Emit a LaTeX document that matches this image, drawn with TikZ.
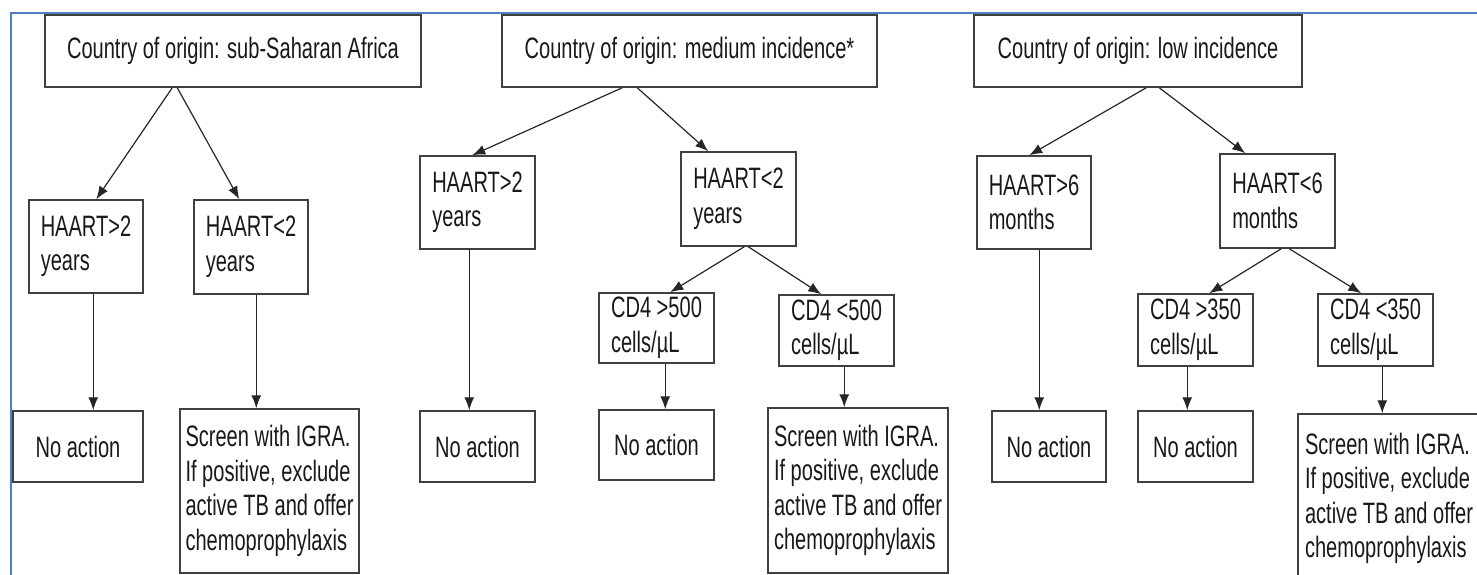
\documentclass[tikz,border=0pt]{standalone}
\usepackage{fontspec}
\setmainfont{Liberation Sans}[FakeStretch=0.68]
\usetikzlibrary{arrows.meta,calc}
\definecolor{frameblue}{RGB}{79,129,189}
\tikzset{
  box/.style={draw=black!75, line width=1.5pt, rectangle, inner sep=0pt, align=left,
    text=black!90, font=\fontsize{29.5}{34.5}\selectfont},
  arr/.style={draw=black!85, line width=1.2pt, -{Latex[length=13pt,width=10pt]}}
}
\begin{document}
\begin{tikzpicture}[x=1pt,y=-1pt]
\useasboundingbox (0,0) rectangle (1477,575);
\draw[frameblue, line width=1.6pt] (11,580) -- (11,13) -- (1480,13);
% left tree
\node[box, minimum width=376, minimum height=72] (A1) at (233,51) {Country of origin: sub-Saharan Africa};
\node[box, minimum width=114, minimum height=93] (A2) at (86,246.5) {HAART>2\\years};
\node[box, minimum width=114, minimum height=94] (A3) at (251,247) {HAART<2\\years};
\node[box, minimum width=130, minimum height=71] (A4) at (78,446.5) {No action};
\node[box, minimum width=179, minimum height=164] (A5) at (269.5,491) {Screen with IGRA.\\If positive, exclude\\active TB and offer\\chemoprophylaxis};
% middle tree
\node[box, minimum width=375, minimum height=72] (B1) at (689.5,51) {Country of origin: medium incidence*};
\node[box, minimum width=115, minimum height=93] (B2) at (477.5,202.5) {HAART>2\\years};
\node[box, minimum width=115, minimum height=94] (B3) at (738.5,199) {HAART<2\\years};
\node[box, minimum width=115, minimum height=70] (B4) at (656.5,328) {CD4 >500\\cells/µL};
\node[box, minimum width=115, minimum height=71] (B5) at (836.5,330.5) {CD4 <500\\cells/µL};
\node[box, minimum width=115, minimum height=71] (B6) at (477.5,446.5) {No action};
\node[box, minimum width=115, minimum height=70] (B7) at (656.5,445) {No action};
\node[box, minimum width=180, minimum height=165] (B8) at (858,490.5) {Screen with IGRA.\\If positive, exclude\\active TB and offer\\chemoprophylaxis};
% right tree
\node[box, minimum width=328, minimum height=72] (C1) at (1138,51) {Country of origin: low incidence};
\node[box, minimum width=114, minimum height=93] (C2) at (1034,202.5) {HAART>6\\months};
\node[box, minimum width=115, minimum height=94] (C3) at (1277.5,201) {HAART<6\\months};
\node[box, minimum width=115, minimum height=72] (C4) at (1195.5,330) {CD4 >350\\cells/µL};
\node[box, minimum width=115, minimum height=72] (C5) at (1375.5,330) {CD4 <350\\cells/µL};
\node[box, minimum width=114, minimum height=71] (C6) at (1049,446.5) {No action};
\node[box, minimum width=115, minimum height=71] (C7) at (1195.5,446.5) {No action};
\node[box, minimum width=182, minimum height=169] (C8) at (1389,498.5) {Screen with IGRA.\\If positive, exclude\\active TB and offer\\chemoprophylaxis};
% connectors left
\draw[arr] ($(A1.south west)+(128,0)$) -- ($(A2.north west)+(68,0)$);
\draw[arr] ($(A1.south west)+(133,0)$) -- ($(A3.north west)+(46,0)$);
\draw[arr] ($(A2.south west)+(65,0)$) -- ($(A4.north west)+(81,0)$);
\draw[arr] ($(A3.south west)+(63,0)$) -- ($(A5.north west)+(77,0)$);
% connectors middle
\draw[arr] ($(B1.south west)+(121,0)$) -- ($(B2.north west)+(53,0)$);
\draw[arr] ($(B1.south west)+(136,0)$) -- ($(B3.north west)+(28,0)$);
\draw[arr] ($(B2.south west)+(50,0)$) -- ($(B6.north west)+(50,0)$);
\draw[arr] ($(B3.south west)+(64,0)$) -- ($(B4.north west)+(72,0)$);
\draw[arr] ($(B3.south west)+(68,0)$) -- ($(B5.north west)+(43,0)$);
\draw[arr] ($(B4.south west)+(67,0)$) -- ($(B7.north west)+(67,0)$);
\draw[arr] ($(B5.south west)+(66,0)$) -- ($(B8.north west)+(77,0)$);
% connectors right
\draw[arr] ($(C1.south west)+(173,0)$) -- ($(C2.north west)+(53,0)$);
\draw[arr] ($(C1.south west)+(186,0)$) -- ($(C3.north west)+(26,0)$);
\draw[arr] ($(C2.south west)+(63,0)$) -- ($(C6.north west)+(48,0)$);
\draw[arr] ($(C3.south west)+(62,0)$) -- ($(C4.north west)+(72,0)$);
\draw[arr] ($(C3.south west)+(70,0)$) -- ($(C5.north west)+(44,0)$);
\draw[arr] ($(C4.south west)+(50,0)$) -- ($(C7.north west)+(50,0)$);
\draw[arr] ($(C5.south west)+(65,0)$) -- ($(C8.north west)+(85,0)$);
\end{tikzpicture}
\end{document}
